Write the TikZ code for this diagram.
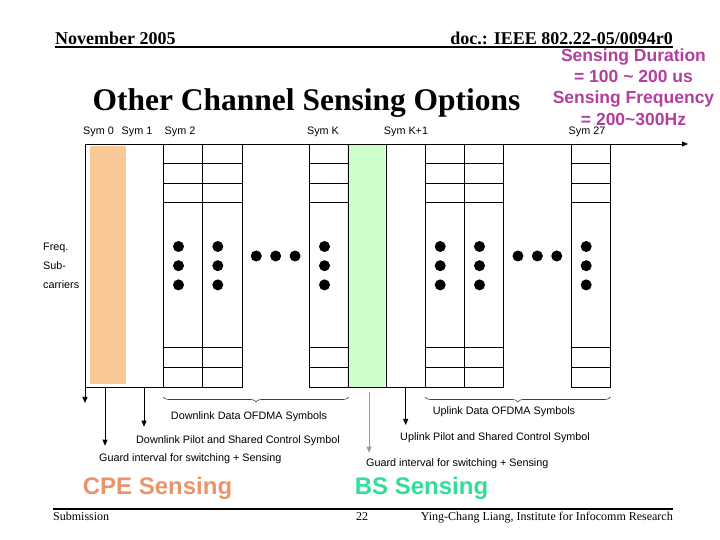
\documentclass[tikz,border=0pt]{standalone}
\usepackage{fontspec}
\setmainfont{Liberation Serif}
\setsansfont{Liberation Sans}
\usepackage{tikz}
\usetikzlibrary{arrows.meta, positioning, calc, decorations.pathreplacing}

\definecolor{cpefill}{RGB}{250,200,150}
\definecolor{bsfill}{RGB}{204,255,204}
\definecolor{cpetext}{RGB}{234,148,108}
\definecolor{bstext}{RGB}{48,222,150}
\definecolor{sensetext}{RGB}{178,62,160}

\begin{document}
\begin{tikzpicture}[
    x=1pt, y=1pt,
    every node/.style={font=\sffamily\fontsize{10.8}{13}\selectfont, inner sep=0pt},
    symcol/.style={rectangle, draw=black, line width=0.8pt, minimum width=39.3pt, minimum height=243pt, outer sep=0pt},
    gapcol/.style={rectangle, minimum height=243pt, outer sep=0pt},
    cell/.style={line width=0.8pt},
    arrow/.style={line width=0.8pt, -{Triangle[length=6pt,width=5pt]}},
    brace/.style={decorate, decoration={brace, mirror, amplitude=5pt}, line width=0.6pt, black!75},
    symlabel/.style={anchor=base},
    note/.style={anchor=west},
    head/.style={font=\rmfamily\bfseries\fontsize{18}{20}\selectfont},
    foot/.style={font=\rmfamily\fontsize{12}{14}\selectfont},
    big/.style={font=\sffamily\bfseries\fontsize{24}{28}\selectfont, anchor=base}
]
    \useasboundingbox (0,0) rectangle (720,540);

    % --- header ---
    \node[head, anchor=base west] (month) at (55,495) {November 2005};
    \node[head, anchor=base east] (doc) at (673,495) {doc.: IEEE 802.22-05/0094r0};
    \draw[line width=1.2pt] (month.base west |- 0,493) -- (doc.base east |- 0,493);
    \node[font=\rmfamily\bfseries\fontsize{31.5}{34}\selectfont, anchor=base] (title) at (306.5,429) {Other Channel Sensing Options};

    % --- sensing gaps ---
    \node[gapcol, fill=cpefill, minimum width=36pt, minimum height=238pt] (cpegap) at (108,275) {};
    \node[gapcol, fill=bsfill, minimum width=38pt] (bsgap) at (366,274.5) {};

    % --- OFDMA symbols ---
    \node[symcol] (s2) at (183,274.5) {};
    \node[symcol, right=0pt of s2] (s3) {};
    \node[symcol] (sK) at (329,274.5) {};
    \node[symcol] (u1) at (444.7,274.5) {};
    \node[symcol, right=0pt of u1] (u2) {};
    \node[symcol] (u27) at (590.7,274.5) {};

    \foreach \c in {s2,s3,sK,u1,u2,u27} {
        \foreach \r in {1,2,3}
            \draw[cell] ($(\c.north west)+(0,-\r*19.6)$) -- ($(\c.north east)+(0,-\r*19.6)$);
        \foreach \r in {1,2}
            \draw[cell] ($(\c.south west)+(0,\r*19.6)$) -- ($(\c.south east)+(0,\r*19.6)$);
        \foreach \d in {0,1,2}
            \fill ($(\c.center)+(-4.5,19-19.2*\d)$) circle (5.5);
    }
    \foreach \i in {-1,0,1} {
        \fill ($(s3.east)!0.5!(sK.west)+(\i*19.4,9.5)$) circle (5.5);
        \fill ($(u2.east)!0.5!(u27.west)+(\i*19.4,9.5)$) circle (5.5);
    }

    % --- axes ---
    \coordinate (origin) at (85,396);
    \coordinate (tend) at (688,396);
    \coordinate (fend) at (85,137);
    \draw[arrow] (origin) -- (tend);
    \draw[arrow] (origin) -- (fend);
    \draw[cell] (origin |- s2.south) -- (s2.south west);
    \draw[cell] (sK.south east) -- (u1.south west);
    \draw[cell] ($(bsgap.north east)+(1,0)$) -- ($(bsgap.south east)+(1,0)$);

    % --- symbol labels ---
    \node[symlabel] (l0) at (98.5,405) {Sym 0};
    \node[symlabel] (l1) at (137,405) {Sym 1};
    \node[symlabel] (l2) at (180,405) {Sym 2};
    \node[symlabel] (lK) at (323,405) {Sym K};
    \node[symlabel] (lK1) at (406,405) {Sym K+1};
    \node[symlabel] (l27) at (587,405) {Sym 27};
    \node[font=\sffamily\fontsize{10.8}{19}\selectfont, align=left, anchor=west] (freq) at (43,274.3) {Freq.\\Sub-\\carriers};

    % --- sensing parameters ---
    \node[font=\sffamily\bfseries\fontsize{17.5}{21.3}\selectfont, text=sensetext, align=center] (param) at (633.5,453)
        {Sensing Duration\\= 100 \textasciitilde{} 200 us\\Sensing Frequency\\= 200\textasciitilde{}300Hz};

    % --- braces and notes ---
    \draw[brace] ($(s2.south west)+(0,-10)$) -- ($(sK.south east)+(0,-10)$);
    \draw[brace] ($(u1.south west)+(0,-10)$) -- ($(u27.south east)+(0,-10)$);
    \node (dldata) at (249,123.3) {Downlink Data OFDMA Symbols};
    \node (uldata) at (504,128) {Uplink Data OFDMA Symbols};
    \node[note] (dlpilot) at (136,99) {Downlink Pilot and Shared Control Symbol};
    \node[note] (cpeguard) at (99,81.7) {Guard interval for switching + Sensing};
    \node[note] (ulpilot) at (400,102) {Uplink Pilot and Shared Control Symbol};
    \node[note] (bsguard) at (366,76) {Guard interval for switching + Sensing};

    \coordinate (cpeA) at (105,153);
    \coordinate (cpeB) at (105,94.3);
    \coordinate (dlA) at (144,153);
    \coordinate (dlB) at (144,113.3);
    \coordinate (ulA) at (405.7,153);
    \coordinate (ulB) at (405.7,115);
    \coordinate (bsA) at (369,148.3);
    \coordinate (bsB) at (369,87.3);
    \draw[arrow] (cpeA) -- (cpeB);
    \draw[arrow] (dlA) -- (dlB);
    \draw[arrow] (ulA) -- (ulB);
    \draw[arrow, black!40] (bsA) -- (bsB);

    \node[big, text=cpetext] (cpe) at (157.5,45.7) {CPE Sensing};
    \node[big, text=bstext] (bs) at (421.5,45.7) {BS Sensing};

    % --- footer ---
    \draw[line width=1.8pt] (53,30.7) -- (673,30.7);
    \node[foot, anchor=base west] (sub) at (53,19.3) {Submission};
    \node[foot, anchor=base] (page) at (362,19.3) {22};
    \node[foot, anchor=base east] (author) at (673,19.3) {Ying-Chang Liang, Institute for Infocomm Research};
\end{tikzpicture}
\end{document}
